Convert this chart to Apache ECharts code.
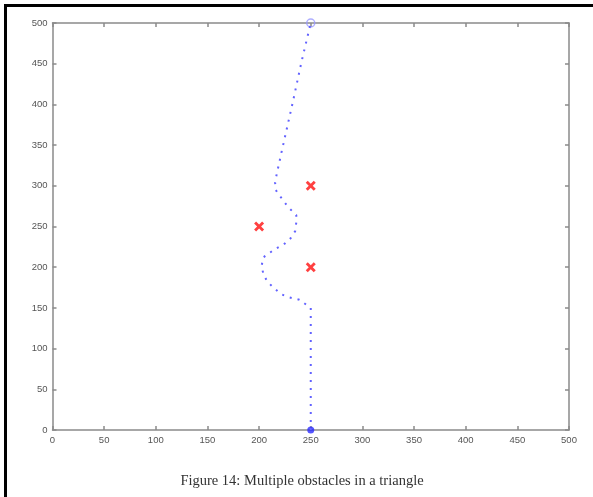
<!DOCTYPE html>
<html>
<head>
<meta charset="utf-8">
<script src="https://cdn.jsdelivr.net/npm/echarts@6/dist/echarts.min.js"></script>
<style>html,body{margin:0;padding:0;background:#fff}#c{width:593px;height:497px}</style>
</head>
<body>
<div id="c"></div>
<script>
// Path of the robot (x, y)
const pathX = [250, 250, 239, 229, 221, 214, 208, 204, 202.5, 204, 215, 224, 230.5, 235, 236, 236, 228, 221, 216, 215.5, 217, 222, 232.5, 241, 250];
const pathY = [0, 150, 160, 163, 167, 175, 182, 192, 202, 212, 222, 228, 235.5, 244.5, 255, 264, 274, 286, 295, 304, 314, 343, 402, 452, 500];
// Obstacles
const obstacleX = [250, 200, 250];
const obstacleY = [300, 250, 200];
const caption = 'Figure 14: Multiple obstacles in a triangle';

const pathData = pathX.map((x, i) => [x, pathY[i]]);
const obsData = obstacleX.map((x, i) => [x, obstacleY[i]]);
const startPt = [[pathX[0], pathY[0]]];
const endPt = [[pathX[pathX.length - 1], pathY[pathY.length - 1]]];

const axisCol = '#8a8a8a';
const labelStyle = { color: '#555', fontSize: 9.5, fontFamily: 'Liberation Sans, Arial, sans-serif' };
function mkAxis(pos, showLabel) {
  return {
    type: 'value', position: pos, min: 0, max: 500, interval: 50,
    axisLine: { show: true, onZero: false, lineStyle: { color: axisCol, width: 1.5 } },
    axisTick: { show: true, inside: true, length: 4, lineStyle: { color: axisCol, width: 1.5 } },
    axisLabel: Object.assign({ show: showLabel, margin: 5 }, labelStyle),
    splitLine: { show: false }
  };
}

const chart = echarts.init(document.getElementById('c'), null, { renderer: 'canvas' });
chart.setOption({
  animation: false,
  backgroundColor: '#fff',
  grid: { left: 52.5, right: 24, top: 23, bottom: 67, containLabel: false },
  xAxis: [mkAxis('bottom', true), mkAxis('top', false)],
  yAxis: [mkAxis('left', true), mkAxis('right', false)],
  graphic: [
    { type: 'rect', shape: { x: 4, y: 4, width: 3, height: 493 }, style: { fill: '#000' } },
    { type: 'rect', shape: { x: 4, y: 4, width: 589, height: 3 }, style: { fill: '#000' } },
    { type: 'text', x: 302, y: 481, style: { text: caption, fill: '#333', font: '14.5px "Liberation Serif", "Times New Roman", serif', textAlign: 'center', textVerticalAlign: 'middle' } }
  ],
  series: [
    {
      type: 'line', data: pathData, xAxisIndex: 0, yAxisIndex: 0,
      showSymbol: false, smooth: false, clip: false,
      lineStyle: { color: '#6262ff', width: 2, type: [2, 6] }
    },
    {
      type: 'scatter', data: startPt, clip: false, symbol: 'circle', symbolSize: 7,
      itemStyle: { color: '#2a2aff' }
    },
    {
      type: 'scatter', data: endPt, clip: false, symbol: 'circle', symbolSize: 8,
      itemStyle: { color: 'rgba(255,255,255,0)', borderColor: '#9a9aff', borderWidth: 1.5 }
    },
    {
      type: 'scatter', data: obsData, clip: false,
      symbol: 'path://M0,2L2,0L5,3L8,0L10,2L7,5L10,8L8,10L5,7L2,10L0,8L3,5Z',
      symbolSize: 10,
      itemStyle: { color: '#ff1010' }
    }
  ]
});
</script>
</body>
</html>
